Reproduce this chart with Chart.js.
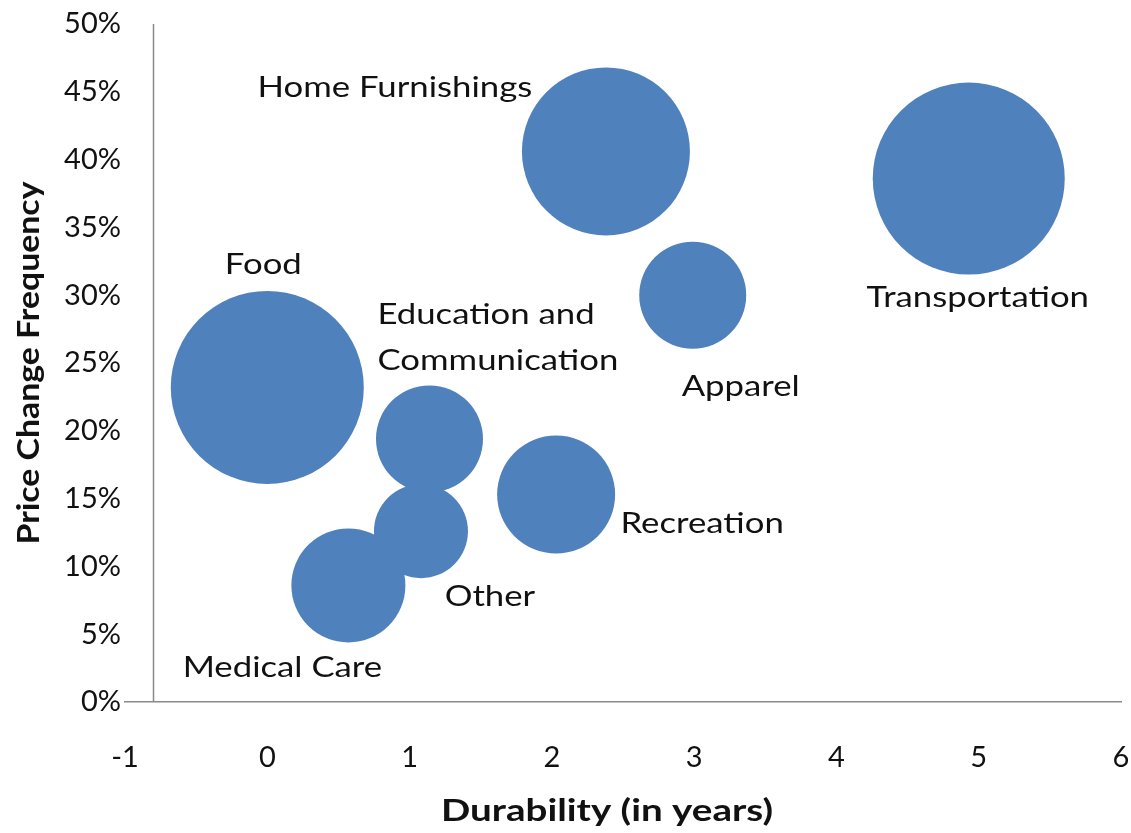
<!DOCTYPE html>
<html>
<head>
<meta charset="utf-8">
<script src="https://cdn.jsdelivr.net/npm/chart.js@4/dist/chart.umd.min.js"></script>
<style>
  body { margin: 0; background: #fff; }
  #wrap { width: 1131px; height: 833px; }
</style>
</head>
<body>
<div id="wrap"><canvas id="chart"></canvas></div>
<script>
// categories and values
const categories = ['Food', 'Home Furnishings', 'Transportation', 'Apparel',
  'Education and Communication', 'Other', 'Recreation', 'Medical Care'];
const durability = [0.0, 2.38, 4.93, 2.99, 1.14, 1.08, 2.03, 0.57];      // years
const priceChangeFreq = [23.2, 40.6, 38.6, 30.0, 19.4, 12.6, 15.3, 8.6];  // percent
const bubbleSize = [96.5, 84, 96, 53.5, 53.5, 47, 59, 57];               // radius
const xTicks = [-1, 0, 1, 2, 3, 4, 5, 6];
const yTicks = [0, 5, 10, 15, 20, 25, 30, 35, 40, 45, 50];
const xTitle = 'Durability (in years)';
const yTitle = 'Price Change Frequency';

// where each label sits relative to its bubble (dx, baseline dy, align, lines)
const labelSpots = {
  'Food': { dx: -4, dy: -113, align: 'center', lines: ['Food'] },
  'Home Furnishings': { dx: -211, dy: -54, align: 'center', lines: ['Home Furnishings'] },
  'Transportation': { dx: 9, dy: 128, align: 'center', lines: ['Transportation'] },
  'Apparel': { dx: 48, dy: 101, align: 'center', lines: ['Apparel'] },
  'Education and Communication': { dx: -52, dy: -115, align: 'left', lines: ['Education and', 'Communication'] },
  'Other': { dx: 69, dy: 75, align: 'center', lines: ['Other'] },
  'Recreation': { dx: 146, dy: 38, align: 'center', lines: ['Recreation'] },
  'Medical Care': { dx: -66, dy: 92, align: 'center', lines: ['Medical Care'] }
};

const points = categories.map((c, i) => ({
  x: durability[i], y: priceChangeFreq[i], r: bubbleSize[i]
}));

// the original text is a bit wider than Lato, so stretch it sideways
function wideText(ctx, text, x, y, sx, align, angle) {
  ctx.save();
  ctx.translate(x, y);
  if (angle) ctx.rotate(angle);
  ctx.scale(sx, 1);
  ctx.textAlign = align;
  ctx.fillText(text, 0, 0);
  ctx.restore();
}

// vertical axis line crosses at -0.8, like the original
const crossLine = {
  id: 'crossLine',
  beforeDatasetsDraw(chart) {
    const { ctx, chartArea, scales } = chart;
    const x = Math.round(scales.x.getPixelForValue(-0.8)) + 0.5;
    ctx.save();
    ctx.strokeStyle = '#8a8a8a';
    ctx.lineWidth = 1.5;
    ctx.beginPath();
    ctx.moveTo(x, chartArea.top);
    ctx.lineTo(x, chartArea.bottom);
    ctx.stroke();
    ctx.restore();
  }
};

const bubbleLabels = {
  id: 'bubbleLabels',
  afterDatasetsDraw(chart) {
    const { ctx } = chart;
    const meta = chart.getDatasetMeta(0);
    ctx.save();
    ctx.font = '28px Lato';
    ctx.fillStyle = '#111';
    ctx.textBaseline = 'alphabetic';
    meta.data.forEach((el, i) => {
      const spot = labelSpots[categories[i]];
      spot.lines.forEach((line, j) => {
        wideText(ctx, line, el.x + spot.dx, el.y + spot.dy + j * 46, 1.24, spot.align);
      });
    });
    ctx.restore();
  }
};

const axisTitles = {
  id: 'axisTitles',
  afterDraw(chart) {
    const { ctx, chartArea } = chart;
    ctx.save();
    ctx.font = 'bold 30px Lato';
    ctx.fillStyle = '#111';
    ctx.textBaseline = 'middle';
    const xs = 332 / ctx.measureText(xTitle).width;
    const ys = 363 / ctx.measureText(yTitle).width;
    wideText(ctx, xTitle, (chartArea.left + chartArea.right) / 2 - 16, chart.height - 22, xs, 'center');
    wideText(ctx, yTitle, 29, chartArea.top + 339, ys, 'center', -Math.PI / 2);
    ctx.restore();
  }
};

new Chart(document.getElementById('chart'), {
  type: 'bubble',
  data: {
    datasets: [{
      label: yTitle,
      data: points,
      backgroundColor: '#4F81BD',
      borderWidth: 0,
      hoverBorderWidth: 0
    }]
  },
  options: {
    responsive: true,
    maintainAspectRatio: false,
    animation: false,
    layout: { autoPadding: false, padding: { top: 24, right: 10, left: 0, bottom: 0 } },
    plugins: {
      legend: { display: false },
      tooltip: { enabled: false }
    },
    scales: {
      x: {
        type: 'linear',
        min: -1,
        max: 6,
        afterBuildTicks: (scale) => { scale.ticks = xTicks.map(v => ({ value: v })); },
        afterFit: (scale) => {
          scale.height = 131;
          scale.paddingLeft = 0;
          scale.paddingRight = 0;
        },
        grid: { display: false, drawTicks: false },
        border: { display: true, color: '#8a8a8a', width: 1.5 },
        ticks: { color: '#111', font: { family: 'Lato', size: 29 }, padding: 38 }
      },
      y: {
        type: 'linear',
        min: 0,
        max: 50,
        afterBuildTicks: (scale) => { scale.ticks = yTicks.map(v => ({ value: v })); },
        afterFit: (scale) => { scale.width = 125; },
        grid: { display: false, drawTicks: false },
        border: { display: false },
        ticks: {
          color: '#111',
          font: { family: 'Lato', size: 29 },
          padding: 4,
          callback: (v) => v + '%'
        }
      }
    }
  },
  plugins: [crossLine, bubbleLabels, axisTitles]
});
</script>
</body>
</html>
